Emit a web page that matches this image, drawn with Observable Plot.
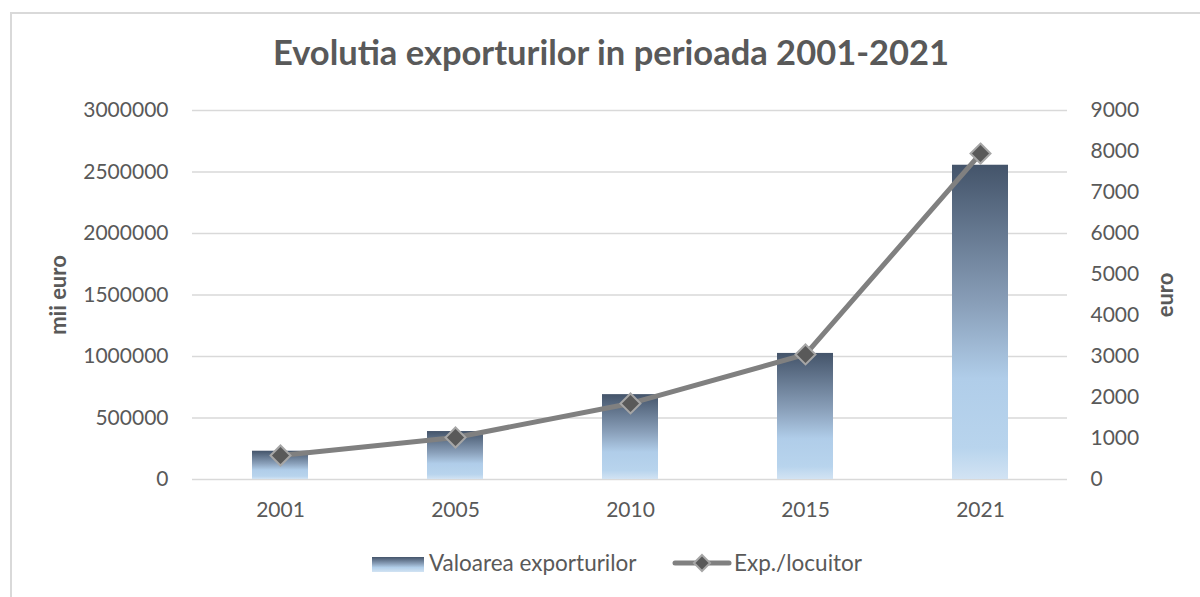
<!DOCTYPE html>
<html>
<head>
<meta charset="utf-8">
<script src="https://cdn.jsdelivr.net/npm/d3@7"></script>
<script src="https://cdn.jsdelivr.net/npm/@observablehq/plot@0.6"></script>
<style>
  body { margin: 0; background: #fff; font-family: Lato, "Open Sans", sans-serif; }
  #wrap { position: relative; width: 1200px; height: 597px; overflow: hidden; background: #fff; }
  #frame { position: absolute; left: 10px; top: 12px; width: 1300px; height: 700px; border: 2px solid #d9d9d9; box-sizing: border-box; }
  #chart { position: absolute; left: 0; top: 0; }
  .t { position: absolute; color: #595959; line-height: 1; white-space: nowrap; }
  #title { left: 0; width: 1222px; top: 35px; text-align: center; font-weight: bold; font-size: 34.5px; }
  .ytitle { font-weight: bold; font-size: 22px; transform: translate(-50%, -50%) rotate(-90deg); }
  .leg { font-size: 22.5px; top: 552px; }
  .sw { position: absolute; }
</style>
</head>
<body>
<div id="wrap">
  <div id="frame"></div>
  <div id="chart"></div>
  <div class="t" id="title">Evolutia exporturilor in perioada 2001-2021</div>
  <div class="t ytitle" style="left:58px; top:295px;">mii euro</div>
  <div class="t ytitle" style="left:1165px; top:295px;">euro</div>
  <svg class="sw" style="left:372px; top:557px;" width="52" height="15">
    <defs>
      <linearGradient id="legGrad" x1="0" y1="0" x2="0" y2="1">
        <stop offset="0" stop-color="#44546a"/>
        <stop offset="0.45" stop-color="#8aa0ba"/>
        <stop offset="0.7" stop-color="#b2cfea"/>
        <stop offset="1" stop-color="#d2e3f3"/>
      </linearGradient>
    </defs>
    <rect x="0" y="0" width="52" height="15" fill="url(#legGrad)"/>
  </svg>
  <div class="t leg" style="left:429px;">Valoarea exporturilor</div>
  <svg class="sw" style="left:670px; top:551px;" width="64" height="24">
    <line x1="5" y1="12" x2="59" y2="12" stroke="#808080" stroke-width="5" stroke-linecap="round"/>
    <path d="M32,4 L40,12 L32,20 L24,12 Z" fill="#595959" stroke="#a6a6a6" stroke-width="2"/>
  </svg>
  <div class="t leg" style="left:734px;">Exp./locuitor</div>
</div>
<script>
const years = ["2001", "2005", "2010", "2015", "2021"];
const exportValues = [230000, 390000, 690000, 1025000, 2555000];   // mii euro
const perCapita = [585, 1025, 1855, 3050, 7950];                   // euro
const leftTicks = [0, 500000, 1000000, 1500000, 2000000, 2500000, 3000000];
const rightTicks = [0, 1000, 2000, 3000, 4000, 5000, 6000, 7000, 8000, 9000];
const leftMax = 3000000;
const rightMax = 9000;
const k = leftMax / rightMax;

const data = years.map((year, i) => ({ year, exports: exportValues[i], perCapita: perCapita[i] }));

const chart = Plot.plot({
  width: 1200,
  height: 597,
  marginTop: 110,
  marginBottom: 118,
  marginLeft: 192,
  marginRight: 133,
  style: { fontFamily: "Lato, 'Open Sans', sans-serif", fontSize: "21px", color: "#595959", background: "transparent", overflow: "visible" },
  x: { domain: years, paddingInner: 0.68, paddingOuter: 0.34, label: null },
  y: { domain: [0, leftMax], label: null },
  marks: [
    Plot.gridY(leftTicks, { stroke: "#d9d9d9", strokeOpacity: 1, strokeWidth: 1.5 }),
    Plot.barY(data, { x: "year", y: "exports", fill: "url(#barGrad)" }),
    Plot.line(data, { x: "year", y: d => d.perCapita * k, stroke: "#808080", strokeWidth: 5, curve: "linear" }),
    Plot.dot(data, { x: "year", y: d => d.perCapita * k, symbol: "diamond2", r: 9, fill: "#595959", stroke: "#a6a6a6", strokeWidth: 2 }),
    Plot.axisY(leftTicks, { anchor: "left", tickSize: 0, tickPadding: 24, tickFormat: d => String(d), label: null }),
    Plot.axisY(rightTicks.map(v => v * k), { anchor: "right", tickSize: 0, tickPadding: 23, tickFormat: d => String(Math.round(d / k)), label: null }),
    Plot.axisX({ tickSize: 0, tickPadding: 23, label: null })
  ]
});

const svg = d3.select(chart);
const grad = svg.insert("defs", ":first-child")
  .append("linearGradient").attr("id", "barGrad")
  .attr("x1", 0).attr("y1", 0).attr("x2", 0).attr("y2", 1);
[[0, "#44546a"], [0.45, "#8aa0ba"], [0.68, "#b0cde9"], [0.9, "#b8d4ed"], [1, "#d2e3f3"]]
  .forEach(([o, c]) => grad.append("stop").attr("offset", o).attr("stop-color", c));

document.getElementById("chart").appendChild(chart);
</script>
</body>
</html>
